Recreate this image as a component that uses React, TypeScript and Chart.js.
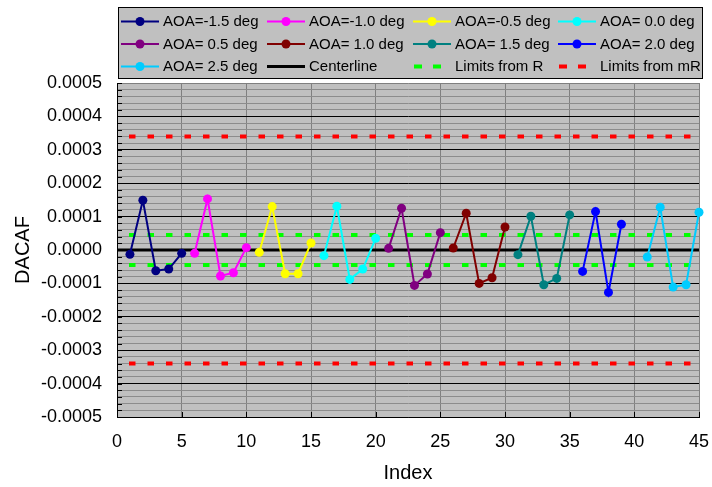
import React, { useEffect, useRef } from 'react';
import { Chart, registerables } from 'chart.js';

Chart.register(...registerables);

const FONT = '"Liberation Sans", Arial, Helvetica, sans-serif';

// ---- data ----
const seriesLabels = [
  'AOA=-1.5 deg', 'AOA=-1.0 deg', 'AOA=-0.5 deg', 'AOA= 0.0 deg',
  'AOA= 0.5 deg', 'AOA= 1.0 deg', 'AOA= 1.5 deg', 'AOA= 2.0 deg', 'AOA= 2.5 deg',
];

const indexM15 = [1, 2, 3, 4, 5];
const valuesM15 = [-0.000013, 0.000149, -0.000062, -0.000057, -0.000010];
const indexM10 = [6, 7, 8, 9, 10];
const valuesM10 = [-0.000010, 0.000153, -0.000078, -0.000068, 0.000007];
const indexM05 = [11, 12, 13, 14, 15];
const valuesM05 = [-0.000007, 0.000130, -0.000071, -0.000071, 0.000021];
const indexP00 = [16, 17, 18, 19, 20];
const valuesP00 = [-0.000017, 0.000131, -0.000088, -0.000057, 0.000035];
const indexP05 = [21, 22, 23, 24, 25];
const valuesP05 = [0.000005, 0.000125, -0.000106, -0.000072, 0.000052];
const indexP10 = [26, 27, 28, 29, 30];
const valuesP10 = [0.000006, 0.000110, -0.000100, -0.000083, 0.000069];
const indexP15 = [31, 32, 33, 34, 35];
const valuesP15 = [-0.000014, 0.000101, -0.000104, -0.000085, 0.000105];
const indexP20 = [36, 37, 38, 39];
const valuesP20 = [-0.000064, 0.000115, -0.000127, 0.000077];
const indexP25 = [41, 42, 43, 44, 45];
const valuesP25 = [-0.000021, 0.000128, -0.000111, -0.000104, 0.000113];

const centerline = 0;
const limitsR = [0.000045, -0.000045];
const limitsMR = [0.00034, -0.00034];
const xRange = [0, 45];
const yRange = [-0.0005, 0.0005];
const yMajorStep = 0.0001;
const yMinorStep = 0.00002;
const xStep = 5;

// ---- styles ----
const seriesColors = [
  '#000080', '#FF00FF', '#FFFF00', '#00FFFF', '#800080',
  '#800000', '#008080', '#0000FF', '#00CCFF',
];
const GREEN = '#00FF00';
const RED = '#FF0000';

const seriesIndex = [indexM15, indexM10, indexM05, indexP00, indexP05, indexP10, indexP15, indexP20, indexP25];
const seriesValues = [valuesM15, valuesM10, valuesM05, valuesP00, valuesP05, valuesP10, valuesP15, valuesP20, valuesP25];

const isMajor = (v: number) => {
  const k = v / yMajorStep;
  return Math.abs(k - Math.round(k)) < 1e-6;
};

const chartPlugin = {
  id: 'excelLook',
  beforeDraw(chart: any) {
    const { ctx, chartArea: a } = chart;
    ctx.save();
    ctx.fillStyle = '#ffffff';
    ctx.fillRect(0, 0, chart.width, chart.height);
    ctx.fillStyle = '#c0c0c0';
    ctx.fillRect(a.left, a.top, a.right - a.left, a.bottom - a.top);
    ctx.restore();
  },
  beforeDatasetsDraw(chart: any) {
    const { ctx, chartArea: a, scales } = chart;
    ctx.save();
    ctx.strokeStyle = '#000';
    ctx.lineWidth = 1;
    ctx.beginPath();
    scales.y.ticks.forEach((t: any) => {
      const y = Math.round(scales.y.getPixelForValue(t.value)) + 0.5;
      ctx.moveTo(a.left, y);
      ctx.lineTo(a.left + 5, y);
    });
    scales.x.ticks.forEach((t: any) => {
      const x = Math.round(scales.x.getPixelForValue(t.value)) + 0.5;
      ctx.moveTo(x, a.bottom);
      ctx.lineTo(x, a.bottom - 5);
    });
    ctx.stroke();
    ctx.restore();
  },
  afterDraw(chart: any) {
    const { ctx } = chart;
    ctx.save();
    // legend box
    const bx = 118, by = 7, bw = 584, bh = 71;
    ctx.fillStyle = '#c0c0c0';
    ctx.fillRect(bx, by, bw, bh);
    ctx.strokeStyle = '#000';
    ctx.lineWidth = 1;
    ctx.strokeRect(bx + 0.5, by + 0.5, bw, bh);

    const colX = [121, 267, 413, 558];
    const rowY = [21.5, 44, 66.5];
    const entries = chart.data.datasets.filter((d: any) => d.legendKind);
    ctx.font = `15px ${FONT}`;
    ctx.textBaseline = 'middle';
    ctx.textAlign = 'left';
    entries.forEach((d: any, i: number) => {
      const x0 = colX[i % 4];
      const y = rowY[Math.floor(i / 4)];
      if (d.legendKind === 'series') {
        ctx.strokeStyle = d.borderColor;
        ctx.lineWidth = 2;
        ctx.beginPath();
        ctx.moveTo(x0, y);
        ctx.lineTo(x0 + 38, y);
        ctx.stroke();
        ctx.fillStyle = d.borderColor;
        ctx.beginPath();
        ctx.arc(x0 + 19, y, 4.5, 0, Math.PI * 2);
        ctx.fill();
      } else if (d.legendKind === 'center') {
        ctx.strokeStyle = '#000';
        ctx.lineWidth = 3;
        ctx.beginPath();
        ctx.moveTo(x0, y);
        ctx.lineTo(x0 + 38, y);
        ctx.stroke();
      } else if (d.legendKind === 'limit') {
        ctx.fillStyle = d.borderColor;
        ctx.fillRect(x0 + 1, y - 2, 8, 4);
        ctx.fillRect(x0 + 20, y - 2, 8, 4);
      }
      ctx.fillStyle = '#000';
      ctx.fillText(d.label, x0 + 42, y + 0.5);
    });
    ctx.restore();
  },
};

function buildDatasets() {
  const ds: any[] = [];
  seriesLabels.forEach((label, i) => {
    ds.push({
      label,
      legendKind: 'series',
      data: seriesIndex[i].map((x, j) => ({ x, y: seriesValues[i][j] })),
      borderColor: seriesColors[i],
      backgroundColor: seriesColors[i],
      borderWidth: 2,
      pointRadius: 4.5,
      pointBorderWidth: 0,
      pointBackgroundColor: seriesColors[i],
      tension: 0,
      clip: false,
    });
  });
  const hline = (y: number) => [{ x: xRange[0], y }, { x: xRange[1], y }];
  ds.push({
    label: 'Centerline',
    legendKind: 'center',
    data: hline(centerline),
    borderColor: '#000',
    borderWidth: 3,
    pointRadius: 0,
  });
  limitsR.forEach((v, i) => {
    ds.push({
      label: 'Limits from R',
      legendKind: i === 0 ? 'limit' : undefined,
      data: hline(v),
      borderColor: GREEN,
      borderWidth: 4,
      borderDash: [6.5, 12],
      borderDashOffset: 6.5,
      borderCapStyle: 'butt',
      pointRadius: 0,
    });
  });
  limitsMR.forEach((v, i) => {
    ds.push({
      label: 'Limits from mR',
      legendKind: i === 0 ? 'limit' : undefined,
      data: hline(v),
      borderColor: RED,
      borderWidth: 4,
      borderDash: [6.5, 12],
      borderDashOffset: 6.5,
      borderCapStyle: 'butt',
      pointRadius: 0,
    });
  });
  return ds;
}

export default function App() {
  const ref = useRef<HTMLCanvasElement | null>(null);
  useEffect(() => {
    if (!ref.current) return;
    const chart = new Chart(ref.current, {
      type: 'line',
      data: { datasets: buildDatasets() },
      plugins: [chartPlugin],
      options: {
        animation: false,
        responsive: false,
        devicePixelRatio: 1,
        layout: { padding: { top: 83, right: 13, bottom: 0, left: 0 } },
        plugins: { legend: { display: false }, tooltip: { enabled: false } },
        scales: {
          x: {
            type: 'linear',
            min: xRange[0],
            max: xRange[1],
            afterFit: (s: any) => { s.height = 70; s.paddingRight = 0; },
            ticks: {
              stepSize: xStep,
              color: '#000',
              font: { family: FONT, size: 18 },
              padding: 14,
              maxRotation: 0,
            },
            grid: { color: '#808080', lineWidth: 1, drawTicks: false },
            border: { color: '#000', width: 1 },
            title: {
              display: true,
              text: 'Index',
              color: '#000',
              font: { family: FONT, size: 20 },
              padding: { top: 0, bottom: 2 },
            },
          },
          y: {
            type: 'linear',
            min: yRange[0],
            max: yRange[1],
            afterFit: (s: any) => { s.width = 117; },
            ticks: {
              stepSize: yMinorStep,
              autoSkip: false,
              color: '#000',
              font: { family: FONT, size: 18 },
              padding: 15,
              callback: (v: any) => {
                const n = Number(v);
                if (!isMajor(n)) return '';
                const r = Math.round(n / yMajorStep) * yMajorStep;
                return Math.abs(r) < 1e-12 ? '0.0000' : r.toFixed(4);
              },
            },
            grid: {
              drawTicks: false,
              lineWidth: 1,
              color: (c: any) => {
                const v = c.tick ? c.tick.value : 0;
                if (Math.abs(v - yRange[1]) < 1e-9) return '#808080';
                return isMajor(v) ? '#000000' : '#8c8c8c';
              },
            },
            border: { color: '#000', width: 1 },
            title: {
              display: true,
              text: 'DACAF',
              color: '#000',
              font: { family: FONT, size: 20 },
              padding: { top: 11, bottom: 0 },
            },
          },
        },
      } as any,
    });
    return () => chart.destroy();
  }, []);
  return (
    <div style={{ position: 'absolute', left: 0, top: 0, width: 712, height: 487 }}>
      <canvas ref={ref} width={712} height={487} style={{ display: 'block' }} />
    </div>
  );
}
